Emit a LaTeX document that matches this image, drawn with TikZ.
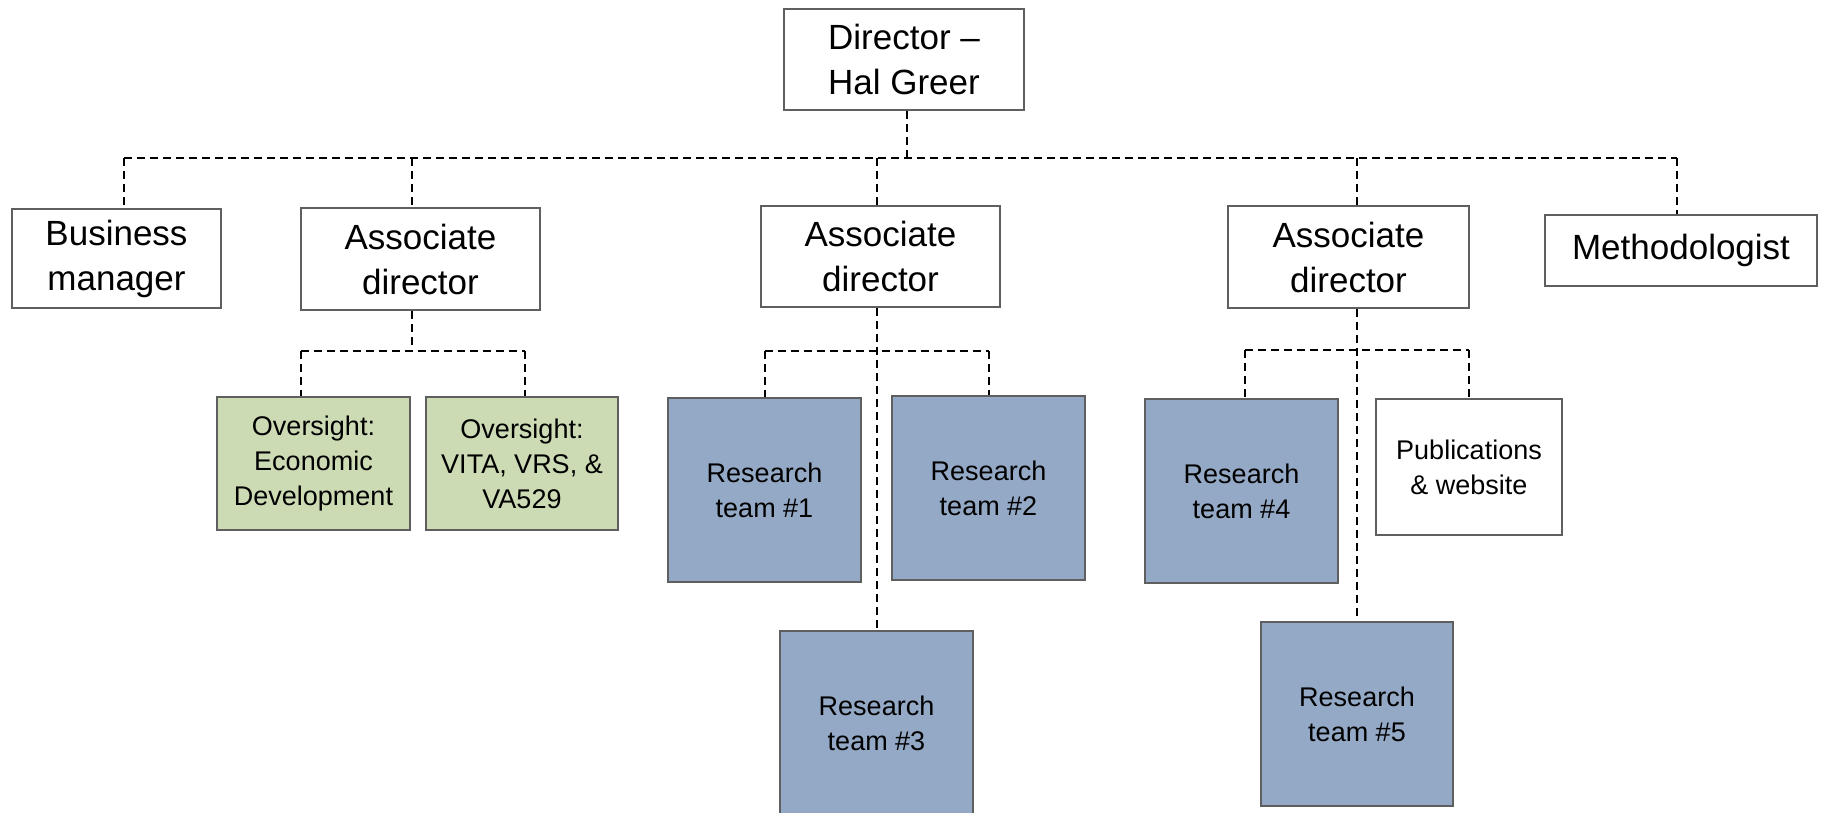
\documentclass[tikz,border=0pt]{standalone}
\usepackage{fontspec}
\setmainfont{Liberation Sans}
\definecolor{oversightfill}{HTML}{CDDBB5}
\definecolor{teamfill}{HTML}{94A9C6}
\definecolor{boxline}{HTML}{5F5F5F}
\tikzset{
  box/.style={draw=boxline, line width=2.2pt, fill=white, inner sep=0pt, align=center, text=black},
  bigtext/.style={font=\fontsize{35}{45}\selectfont},
  smalltext/.style={font=\fontsize{27}{35}\selectfont},
  oversightbox/.style={box, smalltext, fill=oversightfill},
  teambox/.style={box, smalltext, fill=teamfill},
  link/.style={draw=black, line width=2pt, dash pattern=on 8pt off 5pt},
}
\begin{document}
\begin{tikzpicture}[x=1pt, y=-1pt]
\useasboundingbox (0,0) rectangle (1822,812);
% top level
\node[box, bigtext, minimum width=240, minimum height=101] (dir) at (904,59.5) {Director --\\Hal Greer};
% second level
\node[box, bigtext, minimum width=209, minimum height=99] (bm) at (116.5,258.5) {Business\\manager};
\node[box, bigtext, minimum width=239, minimum height=102] (a1) at (420.5,259) {Associate\\director};
\node[box, bigtext, minimum width=239, minimum height=101] (a2) at (880.5,256.5) {Associate\\director};
\node[box, bigtext, minimum width=241, minimum height=102] (a3) at (1348.5,257) {Associate\\director};
\node[box, bigtext, minimum width=272, minimum height=71] (meth) at (1681,250.5) {Methodologist};
% third level
\node[oversightbox, minimum width=193, minimum height=133] (o1) at (313.5,463.5) {Oversight:\\Economic\\Development};
\node[oversightbox, minimum width=192, minimum height=133] (o2) at (522,463.5) {Oversight:\\VITA, VRS, \&\\VA529};
\node[teambox, minimum width=193, minimum height=184] (r1) at (764.5,490) {Research\\team \#1};
\node[teambox, minimum width=193, minimum height=184] (r2) at (988.5,488) {Research\\team \#2};
\node[teambox, minimum width=193, minimum height=184] (r3) at (876.5,723) {Research\\team \#3};
\node[teambox, minimum width=193, minimum height=184] (r4) at (1241.5,491) {Research\\team \#4};
\node[box, smalltext, minimum width=186, minimum height=136] (pub) at (1469,467) {Publications\\\& website};
\node[teambox, minimum width=192, minimum height=184] (r5) at (1357,714) {Research\\team \#5};
% connector coordinates
\coordinate (bus) at (0,158);
\coordinate (busa) at (0,351);
\coordinate (busb) at (0,350);
\coordinate (dj) at ([xshift=3pt]dir.south);
\coordinate (bmj) at ([xshift=7.5pt]bm.north);
\coordinate (a1j) at ([xshift=-8.5pt]a1.north);
\coordinate (a2j) at ([xshift=-3.5pt]a2.north);
\coordinate (a3j) at ([xshift=8.5pt]a3.north);
\coordinate (methj) at ([xshift=-4pt]meth.north);
\coordinate (a1s) at ([xshift=-8.5pt]a1.south);
\coordinate (a2s) at ([xshift=-3.5pt]a2.south);
\coordinate (a3s) at ([xshift=8.5pt]a3.south);
\coordinate (o1j) at ([xshift=-12.5pt]o1.north);
\coordinate (o2j) at ([xshift=3pt]o2.north);
\coordinate (r1j) at (r1.north);
\coordinate (r2j) at (r2.north);
\coordinate (r4j) at ([xshift=3.5pt]r4.north);
\coordinate (pubj) at (pub.north);
% top bus
\draw[link] (dj) -- (dj |- bus);
\draw[link] (bmj |- bus) -- (methj |- bus);
\draw[link] (bmj |- bus) -- (bmj);
\draw[link] (a1j |- bus) -- (a1j);
\draw[link] (a2j |- bus) -- (a2j);
\draw[link] (a3j |- bus) -- (a3j);
\draw[link] (methj |- bus) -- (methj);
% under associate director 1
\draw[link] (a1s) -- (a1s |- busa);
\draw[link] (o1j |- busa) -- (o2j |- busa);
\draw[link] (o1j |- busa) -- (o1j);
\draw[link] (o2j |- busa) -- (o2j);
% under associate director 2
\draw[link] (a2s) -- (a2s |- r3.north);
\draw[link] (r1j |- busa) -- (r2j |- busa);
\draw[link] (r1j |- busa) -- (r1j);
\draw[link] (r2j |- busa) -- (r2j);
% under associate director 3
\draw[link] (a3s) -- (r5.north);
\draw[link] (r4j |- busb) -- (pubj |- busb);
\draw[link] (r4j |- busb) -- (r4j);
\draw[link] (pubj |- busb) -- (pubj);
\end{tikzpicture}
\end{document}
